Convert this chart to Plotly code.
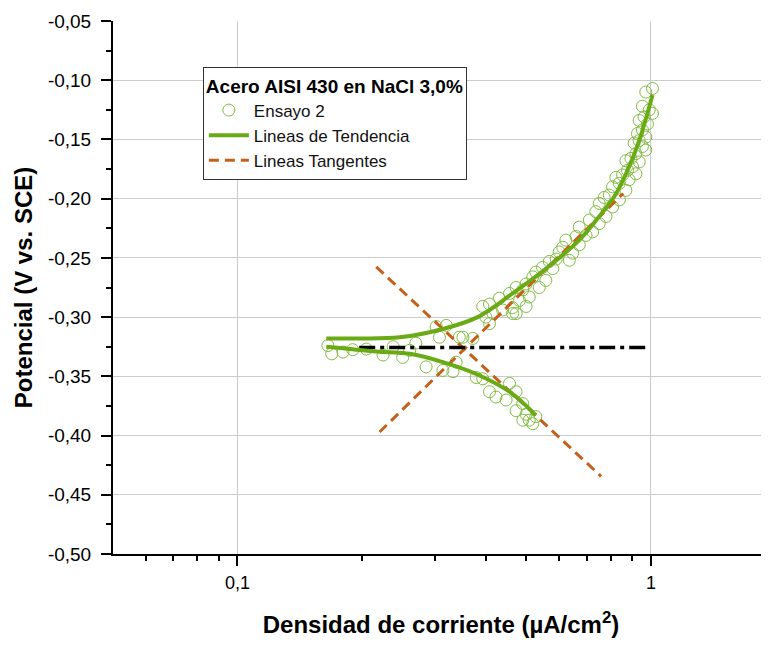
import math
import plotly.graph_objects as go

# ---------------- data ----------------
ensayo_x = [1.009, 0.972, 0.954, 0.991, 1.009, 0.963, 0.937, 0.981, 0.954, 0.928, 0.972, 0.937,
            0.911, 0.954, 0.972, 0.920, 0.895, 0.870, 0.937, 0.903, 0.878, 0.920, 0.854, 0.823,
            0.886, 0.839, 0.808, 0.870, 0.793, 0.839, 0.771, 0.750, 0.808, 0.736, 0.779, 0.710,
            0.750, 0.671, 0.723, 0.697, 0.659, 0.623, 0.671, 0.612, 0.647, 0.600, 0.590, 0.635,
            0.568, 0.547, 0.579, 0.527, 0.518, 0.557, 0.499, 0.537, 0.490, 0.472, 0.455, 0.508,
            0.481, 0.430, 0.463, 0.407, 0.438, 0.392, 0.415, 0.463,
            0.3025, 0.320, 0.308, 0.351, 0.371, 0.399, 0.472, 0.499, 0.344, 0.407,
            0.1655, 0.238, 0.261, 0.205, 0.270,
            0.169, 0.180, 0.190, 0.225, 0.251, 0.286, 0.314, 0.338, 0.332, 0.378, 0.392, 0.407,
            0.422, 0.4465, 0.455, 0.472, 0.490, 0.472, 0.499, 0.508, 0.490, 0.518, 0.527]
ensayo_y = [-0.107, -0.110, -0.122, -0.125, -0.128, -0.131, -0.134, -0.137, -0.142, -0.145, -0.148, -0.151,
            -0.153, -0.156, -0.159, -0.162, -0.166, -0.168, -0.169, -0.173, -0.176, -0.179, -0.180, -0.182,
            -0.184, -0.187, -0.190, -0.193, -0.197, -0.201, -0.199, -0.204, -0.207, -0.211, -0.215, -0.218,
            -0.221, -0.224, -0.228, -0.231, -0.232, -0.235, -0.239, -0.241, -0.246, -0.245, -0.251, -0.252,
            -0.253, -0.258, -0.259, -0.262, -0.266, -0.269, -0.272, -0.275, -0.277, -0.275, -0.280, -0.283,
            -0.286, -0.284, -0.292, -0.289, -0.294, -0.291, -0.297, -0.297,
            -0.308, -0.307, -0.317, -0.317, -0.318, -0.300, -0.297, -0.291, -0.317, -0.3055,
            -0.324, -0.325, -0.328, -0.327, -0.322,
            -0.331, -0.3295, -0.3275, -0.332, -0.334, -0.342, -0.345, -0.338, -0.346, -0.351, -0.352, -0.363,
            -0.3675, -0.370, -0.356, -0.363, -0.373, -0.379, -0.382, -0.387, -0.387, -0.390, -0.384]

tend_anod_x = [0.164, 0.197, 0.247, 0.314, 0.381, 0.463, 0.558, 0.671, 0.750, 0.823, 0.886, 0.937, 0.981, 1.009]
tend_anod_y = [-0.318, -0.318, -0.317, -0.310, -0.300, -0.280, -0.259, -0.235, -0.215, -0.196, -0.173, -0.151, -0.128, -0.1125]
tend_cat_x = [0.164, 0.217, 0.261, 0.314, 0.378, 0.455, 0.527]
tend_cat_y = [-0.325, -0.329, -0.331, -0.338, -0.348, -0.363, -0.383]

tang_anod_x = [0.2207, 0.857]
tang_anod_y = [-0.397, -0.1956]
tang_cat_x = [0.2166, 0.758]
tang_cat_y = [-0.2576, -0.4345]

ecorr_x = [0.197, 0.98]
ecorr_y = [-0.3257, -0.3257]

x_ticks = [0.1, 1]
x_ticklabels = ["0,1", "1"]
x_minor = [0.06, 0.07, 0.08, 0.09, 0.2, 0.3, 0.4, 0.5, 0.6, 0.7, 0.8, 0.9]
y_ticks = [-0.50, -0.45, -0.40, -0.35, -0.30, -0.25, -0.20, -0.15, -0.10, -0.05]
y_ticklabels = ["-0,50", "-0,45", "-0,40", "-0,35", "-0,30", "-0,25", "-0,20", "-0,15", "-0,10", "-0,05"]
y_minor = [-0.475, -0.425, -0.375, -0.325, -0.275, -0.225, -0.175, -0.125, -0.075]

GREEN = "#6aaa15"
MARK = "#82bc44"
ORANGE = "#c5601a"
FONT = "Liberation Sans, Arial, sans-serif"

fig = go.Figure()
fig.add_trace(go.Scatter(x=ensayo_x, y=ensayo_y, mode="markers", name="Ensayo 2", legendrank=1,
                         marker=dict(symbol="circle-open", size=12, color=MARK, line=dict(width=1, color=MARK))))
fig.add_trace(go.Scatter(x=tang_anod_x, y=tang_anod_y, mode="lines", name="Lineas Tangentes",
                         legendgroup="tang", legendrank=3,
                         line=dict(color=ORANGE, width=3, dash="10px,6px")))
fig.add_trace(go.Scatter(x=tang_cat_x, y=tang_cat_y, mode="lines", name="Lineas Tangentes",
                         legendgroup="tang", showlegend=False,
                         line=dict(color=ORANGE, width=3, dash="10px,6px")))
fig.add_trace(go.Scatter(x=ecorr_x, y=ecorr_y, mode="lines", showlegend=False,
                         line=dict(color="black", width=3.5, dash="16px,5px,4px,5px")))
fig.add_trace(go.Scatter(x=tend_anod_x, y=tend_anod_y, mode="lines", name="Lineas de Tendencia",
                         legendgroup="tend", legendrank=2, line_shape="spline",
                         line=dict(color=GREEN, width=4)))
fig.add_trace(go.Scatter(x=tend_cat_x, y=tend_cat_y, mode="lines", name="Lineas de Tendencia",
                         legendgroup="tend", showlegend=False, line_shape="spline",
                         line=dict(color=GREEN, width=4)))

# the page adds an 8px body margin, so the figure is 8px smaller than the window
fig.update_layout(
    width=761, height=637,
    margin=dict(l=105, r=0, t=13, b=91),
    paper_bgcolor="white", plot_bgcolor="white",
    font=dict(family=FONT, color="black", size=18),
    legend=dict(
        x=0.137, y=0.914, xanchor="left", yanchor="top",
        bgcolor="white", bordercolor="#333333", borderwidth=1,
        font=dict(family=FONT, size=17, color="#111111"),
        title=dict(text="<b>Acero AISI 430 en NaCl 3,0%</b>", font=dict(family=FONT, size=19, color="black")),
        itemwidth=40, tracegroupgap=0,
    ),
    xaxis=dict(
        type="log", range=[math.log10(0.05), 0.2857], automargin=False,
        tickmode="array", tickvals=x_ticks, ticktext=x_ticklabels,
        ticks="outside", ticklen=10, tickwidth=2, tickcolor="black",
        ticklabelstandoff=1,
        showline=True, linecolor="black", linewidth=2,
        showgrid=True, gridcolor="#cccccc", gridwidth=1, zeroline=False,
        minor=dict(tickmode="array", tickvals=x_minor, ticks="outside", ticklen=5, tickwidth=2,
                   tickcolor="black", showgrid=False),
        tickfont=dict(family=FONT, size=18, color="black"),
        title=dict(text="<b>Densidad de corriente (µA/cm<sup>2</sup>)</b>",
                   font=dict(family=FONT, size=24, color="black"), standoff=25),
    ),
    yaxis=dict(
        range=[-0.5, -0.05], automargin=False,
        tickmode="array", tickvals=y_ticks, ticktext=y_ticklabels,
        ticks="outside", ticklen=10, tickwidth=2, tickcolor="black",
        ticklabelstandoff=6,
        showline=True, linecolor="black", linewidth=2,
        showgrid=True, gridcolor="#cccccc", gridwidth=1, zeroline=False,
        minor=dict(tickmode="array", tickvals=y_minor, ticks="outside", ticklen=5, tickwidth=2,
                   tickcolor="black", showgrid=False),
        tickfont=dict(family=FONT, size=19, color="black"),
        title=dict(text="<b>Potencial (V vs. SCE)</b>",
                   font=dict(family=FONT, size=24, color="black"), standoff=8),
    ),
)

fig.write_html("out.html")
